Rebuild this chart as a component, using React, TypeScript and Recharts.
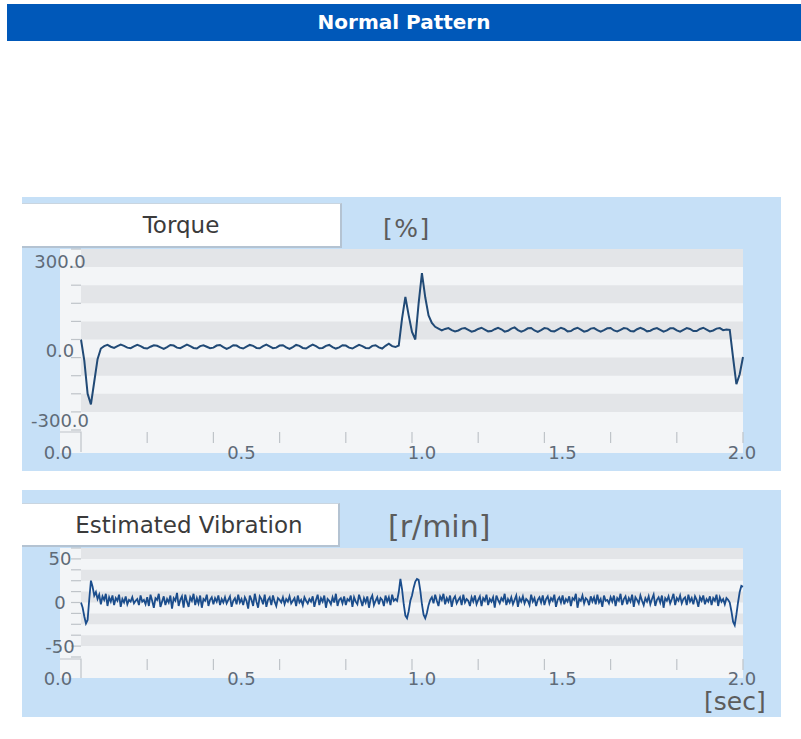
import React from "react";
import { LineChart, Line, XAxis, YAxis, ReferenceArea } from "recharts";

// sampled every 10 ms, 0.00 .. 2.00 s
const TORQUE_STEP = 0.01;
const torque = [
  0, -70, -180, -215, -140, -65, -30, -22, -18, -24,
  -28, -22, -17, -21, -27, -29, -23, -18, -22, -28,
  -30, -24, -19, -21, -26, -31, -25, -18, -20, -27,
  -29, -23, -17, -22, -28, -30, -22, -19, -24, -29,
  -27, -20, -18, -25, -31, -26, -19, -20, -27, -30,
  -24, -18, -21, -28, -29, -22, -17, -23, -29, -27,
  -20, -19, -26, -31, -25, -18, -21, -28, -30, -23,
  -17, -22, -29, -28, -21, -18, -25, -30, -26, -19,
  -20, -27, -30, -24, -18, -22, -28, -29, -21, -19,
  -26, -30, -21, -14, -22, -25, -20, 70, 141, 80,
  25, 0, 120, 220, 140, 80, 55, 42, 36, 30,
  35, 38, 31, 27, 30, 36, 38, 32, 26, 29,
  35, 39, 33, 27, 28, 34, 39, 34, 26, 29,
  36, 40, 31, 26, 30, 37, 38, 30, 25, 31,
  38, 36, 28, 27, 33, 39, 35, 27, 28, 35,
  39, 33, 26, 29, 36, 38, 31, 26, 31, 37,
  38, 30, 27, 32, 38, 36, 28, 27, 34, 39,
  34, 27, 29, 35, 38, 32, 26, 30, 37, 37,
  30, 26, 32, 38, 35, 28, 28, 35, 39, 33,
  27, 30, 36, 38, 31, 33, 32, -60, -148, -115,
  -58,
];

// sampled every 5 ms, 0.000 .. 2.000 s
const VIBRATION_STEP = 0.005;
const vibration = [
  0, -6, -16, -24, -20, 4, 25, 18, 8, 12, 4, 9, -2, 7, 3, 10, -4, 6, 1, 8,
  -3, 5, 2, 9, -5, 4, 0, 7, -2, 3, 1, 6, -1, 2, 4, -3, 8, 1, 3, -2,
  6, -4, 9, 2, -6, 5, 3, 10, -5, 1, 7, -3, 4, 0, 8, -7, 5, 2, 11, -4,
  3, 7, -6, 9, 1, -5, 6, 2, 10, -3, 5, -1, 8, -6, 4, 2, 9, -4, 3, 6,
  -2, 5, 1, 8, -3, 4, 0, 6, -1, 3, 7, -5, 2, 5, -2, 9, 0, 4, -3, 6,
  2, -7, 8, 3, -4, 10, 1, -6, 7, 4, -2, 9, -5, 3, 6, -3, 8, 1, -4, 5,
  3, 0, 6, -2, 4, 1, 7, -1, 2, 5, -4, 8, 0, 3, -3, 6, 2, -1, 4, 1,
  7, -5, 3, 9, -3, 5, 1, 8, -6, 4, 2, -2, 6, 0, 10, -4, 3, 5, -1, 7,
  -3, 4, 2, 8, -5, 6, 1, -2, 9, 3, -4, 5, 0, 7, -6, 4, 8, -3, 2, 6,
  -2, 5, 3, -4, 8, 1, 6, -3, 9, 2, 4, 2, 12, 27, 15, -2, -15, -18, -10, 2,
  8, 17, 24, 27, 26, 14, -2, -14, -18, -12, -3, 3, 6, -1, 9, 2, -4, 7, 3, 10,
  -2, 5, 1, 8, -5, 4, 7, -1, 3, 6, -3, 9, 0, 4, 2, -4, 6, 1, 8, -2,
  3, 7, -4, 5, 2, 9, -3, 4, 1, 6, -6, 8, 3, -1, 5, 2, 10, -3, 4, 0,
  6, -2, 3, 8, -5, 5, 1, 7, -1, 4, 2, -3, 9, 1, 5, -4, 3, 6, 0, 8,
  -3, 4, 7, -1, 5, 2, 9, -5, 3, 6, 0, 8, -2, 4, 1, 7, -4, 5, 3, 10,
  -6, 4, 2, 8, -1, 5, 3, -3, 7, 1, 6, -2, 9, 0, 4, -5, 8, 2, 3, -1,
  6, 1, 8, -4, 5, 2, 10, -3, 4, 7, -2, 5, 1, 9, -5, 6, 3, -1, 8, 2,
  -3, 5, 1, 7, -2, 4, 9, -4, 3, 6, 0, 8, -6, 5, 2, 7, -1, 4, 10, -3,
  5, 2, 8, -1, 4, 6, -3, 9, 1, 5, -2, 7, 3, -5, 6, 2, 8, -2, 4, 1,
  7, -3, 5, 2, 9, -4, 6, 1, 4, -2, 5, 3, 0, -10, -22, -26, -14, 0, 12, 19,
  18,
];

const timeMinorTicks = [0, 0.2, 0.4, 0.6, 0.8, 1.0, 1.2, 1.4, 1.6, 1.8, 2.0];
const timeLabels = [0, 0.5, 1.0, 1.5, 2.0];
const timeTicks = [0, 0.2, 0.4, 0.5, 0.6, 0.8, 1.0, 1.2, 1.4, 1.5, 1.6, 1.8, 2.0];

const torqueTicks = [300, 240, 180, 120, 60, 0, -60, -120, -180, -240, -300];
const torqueLabels = [300, 0, -300];
const vibrationTicks = [62.5, 50, 37.5, 25, 12.5, 0, -12.5, -25, -37.5, -50, -62.5];
const vibrationLabels = [50, 0, -50];

// label nudges, as placed in the original screen capture
const timeLabelDx: Record<string, number> = { "0": -23, "0.5": -5, "1": 10, "1.5": -15, "2": -1 };
const torqueLabelDy: Record<string, number> = { "300": 12, "0": 11, "-300": -10 };

const BLUE_PANEL = "#c6e0f7";
const LIGHT = "#f3f5f7";
const STRIPE = "#e3e5e8";
const TICK = "#bfc4c9";
const LABEL = "#5f6b78";
const FONT = "'DejaVu Sans', Verdana, sans-serif";

const toData = (vals: number[], step: number) =>
  vals.map((v, i) => ({ t: Math.round(i * step * 1000) / 1000, v }));

const torqueData = toData(torque, TORQUE_STEP);
const vibrationData = toData(vibration, VIBRATION_STEP);

function stripes(ticks: number[]) {
  const out: [number, number][] = [];
  for (let i = 0; i < ticks.length - 1; i += 2) out.push([ticks[i + 1], ticks[i]]);
  return out;
}

function timeTick(tickSize: number, tickMargin: number) {
  return (props: any) => {
    const { x, y, payload } = props;
    const v = payload.value;
    const top = y - tickSize - tickMargin;
    return (
      <g>
        {timeMinorTicks.includes(v) && v !== 0 && (
          <line x1={x} x2={x} y1={top + 2} y2={top + tickSize + 2} stroke={TICK} strokeWidth={1.2} />
        )}
        {v === 0 && (
          <path d={`M${x - 21},${top + 2}H${x}V${y}`} fill="none" stroke={TICK} strokeWidth={1.2} />
        )}
        {timeLabels.includes(v) && (
          <text
            x={x + (timeLabelDx[String(v)] ?? 0)}
            y={y}
            textAnchor="middle"
            dominantBaseline="central"
            fill={LABEL}
            fontSize={18}
            fontFamily={FONT}
          >
            {v.toFixed(1)}
          </text>
        )}
      </g>
    );
  };
}

function valueTick(labels: number[], fmt: (v: number) => string, dy: Record<string, number>) {
  return (props: any) => {
    const { x, y, payload } = props;
    const v = payload.value;
    if (!labels.includes(v)) return <g />;
    return (
      <text
        x={x}
        y={y + (dy[String(v)] ?? 0)}
        textAnchor="middle"
        dominantBaseline="central"
        fill={LABEL}
        fontSize={18}
        fontFamily={FONT}
      >
        {fmt(v)}
      </text>
    );
  };
}

function Label({ left, top, width, height, text, padLeft = 0 }: any) {
  return (
    <div
      style={{
        position: "absolute",
        left,
        top,
        width,
        height,
        boxSizing: "border-box",
        background: "#fff",
        borderTop: "1px solid #c9d5e0",
        borderRight: "2px solid #b4c3d2",
        borderBottom: "2px solid #b4c3d2",
        display: "flex",
        alignItems: "center",
        justifyContent: "center",
        paddingLeft: padLeft,
        fontSize: 23,
        color: "#3b3b3b",
        fontFamily: FONT,
      }}
    >
      {text}
    </div>
  );
}

function Text({ left, cy, size, children, spacing = 0 }: any) {
  return (
    <div
      style={{
        position: "absolute",
        left,
        top: cy - size,
        lineHeight: `${size * 2}px`,
        fontSize: size,
        letterSpacing: spacing,
        color: "#5c5c5c",
        fontFamily: FONT,
        whiteSpace: "nowrap",
      }}
    >
      {children}
    </div>
  );
}

export default function App() {
  return (
    <div style={{ position: "relative", width: 801, height: 739, background: "#fff", fontFamily: FONT }}>
      <style>{`body{margin:0}`}</style>

      <div
        style={{
          position: "absolute",
          left: 7,
          top: 4,
          width: 794,
          height: 37,
          background: "#0058b9",
          color: "#fff",
          fontWeight: "bold",
          fontSize: 20,
          lineHeight: "37px",
          textAlign: "center",
        }}
      >
        Normal Pattern
      </div>

      {/* Torque panel */}
      <div style={{ position: "absolute", left: 22, top: 197, width: 759, height: 274, background: BLUE_PANEL }} />
      <div style={{ position: "absolute", left: 60, top: 249, width: 683, height: 204, background: LIGHT }} />
      <Label left={22} top={203} width={320} height={45} text="Torque" />
      <Text left={383} cy={229} size={25} spacing={1.5}>[%]</Text>
      <LineChart
        width={759}
        height={274}
        data={torqueData}
        margin={{ top: 52, right: 38, bottom: 11, left: 0 }}
        style={{ position: "absolute", left: 22, top: 197 }}
      >
        {stripes(torqueTicks).map(([a, b]) => (
          <ReferenceArea key={a} y1={a} y2={b} fill={STRIPE} fillOpacity={1} stroke="none" />
        ))}
        <XAxis
          dataKey="t"
          type="number"
          domain={[0, 2]}
          ticks={timeTicks}
          interval={0}
          height={30}
          axisLine={false}
          tickLine={false}
          tickSize={11}
          tickMargin={11}
          tick={timeTick(11, 11)}
        />
        <YAxis
          type="number"
          domain={[-300, 300]}
          ticks={torqueTicks}
          interval={0}
          width={59}
          axisLine={false}
          tickLine={{ stroke: TICK, strokeWidth: 1.2 }}
          tickSize={10}
          tickMargin={11}
          tick={valueTick(torqueLabels, (v) => v.toFixed(1), torqueLabelDy)}
        />
        <Line
          type="linear"
          dataKey="v"
          stroke="#214a76"
          strokeWidth={2}
          dot={false}
          activeDot={false}
          isAnimationActive={false}
        />
      </LineChart>

      {/* Estimated vibration panel */}
      <div style={{ position: "absolute", left: 22, top: 490, width: 759, height: 227, background: BLUE_PANEL }} />
      <div style={{ position: "absolute", left: 60, top: 548, width: 683, height: 130, background: LIGHT }} />
      <Label left={22} top={503} width={318} height={44} text="Estimated Vibration" padLeft={18} />
      <Text left={388} cy={527} size={30}>[r/min]</Text>
      <Text left={704} cy={702} size={25}>[sec]</Text>
      <LineChart
        width={759}
        height={227}
        data={vibrationData}
        margin={{ top: 58, right: 38, bottom: 30, left: 0 }}
        style={{ position: "absolute", left: 22, top: 490 }}
      >
        {stripes(vibrationTicks).map(([a, b]) => (
          <ReferenceArea key={a} y1={a} y2={b} fill={STRIPE} fillOpacity={1} stroke="none" />
        ))}
        <XAxis
          dataKey="t"
          type="number"
          domain={[0, 2]}
          ticks={timeTicks}
          interval={0}
          height={30}
          axisLine={false}
          tickLine={false}
          tickSize={11}
          tickMargin={10}
          tick={timeTick(11, 10)}
        />
        <YAxis
          type="number"
          domain={[-62.5, 62.5]}
          ticks={vibrationTicks}
          interval={0}
          width={59}
          axisLine={false}
          tickLine={{ stroke: TICK, strokeWidth: 1.2 }}
          tickSize={10}
          tickMargin={11}
          tick={valueTick(vibrationLabels, (v) => String(v), {})}
        />
        <Line
          type="linear"
          dataKey="v"
          stroke="#1b4d8c"
          strokeWidth={1.8}
          dot={false}
          activeDot={false}
          isAnimationActive={false}
        />
      </LineChart>
    </div>
  );
}
